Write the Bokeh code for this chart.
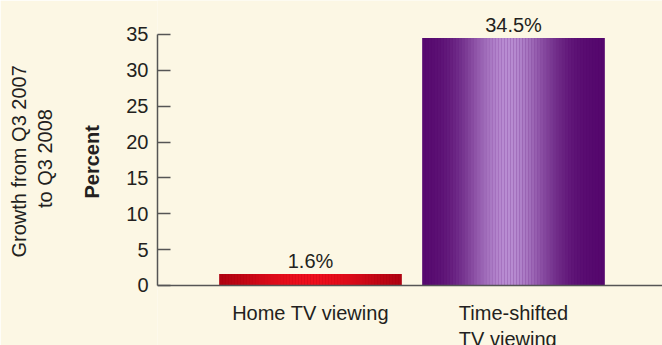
import numpy as np
from bokeh.plotting import figure
from bokeh.models import Range1d, FixedTicker, LabelSet, ColumnDataSource, Span, Title
from bokeh.core.properties import value
from bokeh.embed import file_html
from bokeh.resources import INLINE

# ---- data ----
categories = ["Home TV viewing", "Time-shifted\nTV viewing"]
values = [1.6, 34.5]
value_labels = ["1.6%", "34.5%"]
y_ticks = [0, 5, 10, 15, 20, 25, 30, 35]
y_axis_title = "Percent"
side_title = ["Growth from Q3 2007", "to Q3 2008"]

# ---- style ----
FONT = "Liberation Sans"
BG = "#fcf7e4"
TXT = "#231f20"
AXIS = "#555555"
edge_colors = [(160, 0, 14), (84, 6, 108)]
center_colors = [(238, 14, 28), (184, 140, 210)]
peaks = [0.5, 0.47]
spreads = [0.4, 0.24]
BAR_W = 0.897
N_STRIPS = 60

xs = [i + 1 for i in range(len(categories))]

p = figure(width=662, height=345,
           x_range=Range1d(0.2463, 2.734), y_range=Range1d(-8.37, 39.74),
           x_axis_location=None,
           output_backend="svg", toolbar_location=None,
           min_border_left=157, min_border_right=0,
           min_border_top=0, min_border_bottom=0,
           background_fill_color=BG, border_fill_color=BG,
           outline_line_color=None)
p.grid.visible = False

# baseline
p.add_layout(Span(location=0, dimension="width", line_color=AXIS, line_width=1.5))

# base bars
base_cols = ["#%02x%02x%02x" % c for c in edge_colors]
p.vbar(x=xs, top=values, bottom=0, width=BAR_W, fill_color=base_cols, line_color=None)

# gradient shading strips
sx, st, sc = [], [], []
for xi, v, ec, cc, pk, sp in zip(xs, values, edge_colors, center_colors, peaks, spreads):
    for k in range(N_STRIPS):
        f = (k + 0.5) / N_STRIPS
        s = float(np.exp(-((f - pk) / sp) ** 2))
        col = tuple(int(round(e + (c - e) * s)) for e, c in zip(ec, cc))
        sx.append(xi - BAR_W / 2 + f * BAR_W)
        st.append(v)
        sc.append("#%02x%02x%02x" % col)
p.vbar(x=sx, top=st, bottom=0, width=BAR_W / N_STRIPS * 1.05,
       fill_color=sc, line_color=None)

# y axis
ya = p.yaxis[0]
ya.bounds = (0, 35)
ya.ticker = FixedTicker(ticks=y_ticks)
ya.minor_tick_line_color = None
ya.major_tick_in = 13
ya.major_tick_out = 0
ya.major_label_standoff = 9
ya.axis_line_color = AXIS
ya.axis_line_width = 1.5
ya.major_tick_line_color = AXIS
ya.major_tick_line_width = 1.5
ya.major_label_text_font = FONT
ya.major_label_text_font_size = "20px"
ya.major_label_text_color = TXT

# axis title and side title lines (stacked outward)
p.add_layout(Title(text=y_axis_title, align="left", standoff=42, offset=147,
                   text_font=FONT, text_font_size="20px",
                   text_font_style="bold", text_color=TXT), "left")
p.add_layout(Title(text=side_title[1], align="left", standoff=4, offset=137.5,
                   text_font=FONT, text_font_size="20px",
                   text_font_style="normal", text_color=TXT), "left")
p.add_layout(Title(text=side_title[0], align="left", standoff=0, offset=88,
                   text_font=FONT, text_font_size="20px",
                   text_font_style="normal", text_color=TXT), "left")

# category labels
cat_src = ColumnDataSource(dict(x=xs, text=categories))
p.add_layout(LabelSet(x="x", y=43.5, y_units="screen", text="text", source=cat_src,
                      text_align="center", text_baseline="top",
                      text_font=value(FONT), text_font_size=value("20px"),
                      text_color=TXT, text_line_height=1.2))

# value labels
val_src = ColumnDataSource(dict(x=xs, y=values, text=value_labels))
p.add_layout(LabelSet(x="x", y="y", text="text", source=val_src,
                      y_offset=6, text_align="center", text_baseline="alphabetic",
                      text_font=value(FONT), text_font_size=value("20px"),
                      text_color=TXT))

open("out.html", "w").write(file_html(p, INLINE))
